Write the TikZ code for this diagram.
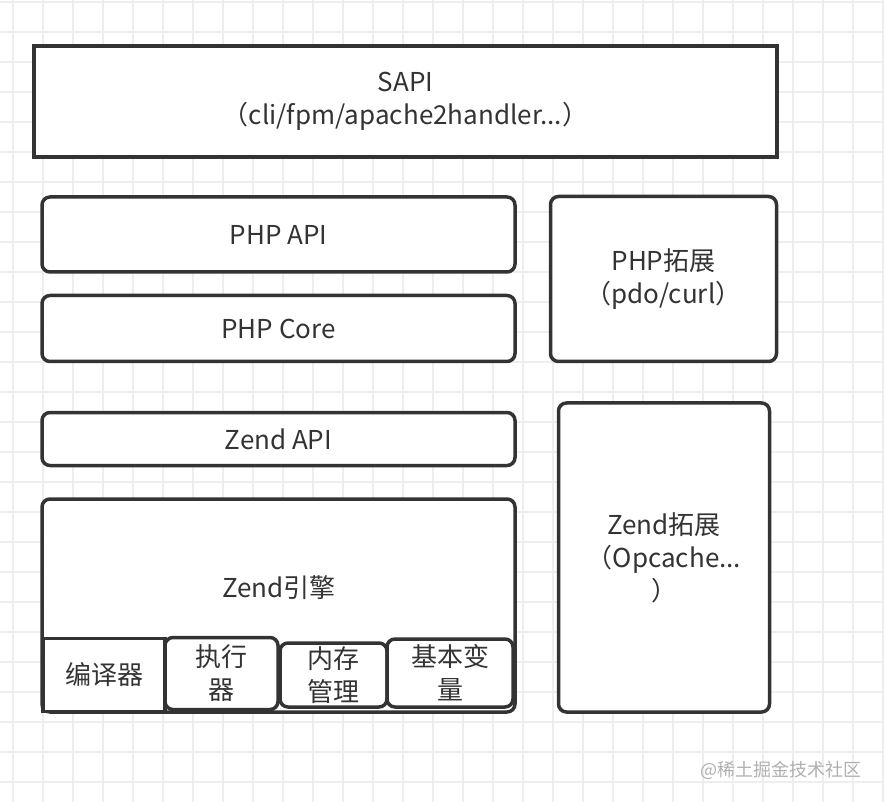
\documentclass[tikz,border=0pt]{standalone}
\usepackage{fontspec}
\setmainfont{Noto Sans CJK SC}
\begin{document}
\begin{tikzpicture}[x=1pt,y=-1pt,
  every node/.style={font=\fontsize{26}{33}\selectfont, text=txt},
  sq/.style={draw=edge, line width=3.5pt, fill=white, rectangle, inner sep=0pt, align=center},
  rd/.style={sq, rounded corners=8pt},
  lbl/.style={inner sep=0pt, align=center},
  gridline/.style={draw=gridc, line width=1.5pt}]
\definecolor{edge}{HTML}{333333}
\definecolor{txt}{HTML}{333333}
\definecolor{gridc}{HTML}{EEEEEE}
\definecolor{wm}{HTML}{B0B0B0}
\useasboundingbox[fill=white] (0,0) rectangle (884,802);
% grid
\foreach \gx in {13,43,...,883} {\draw[gridline] (\gx,0) -- (\gx,802);}
\foreach \gy in {2,32,...,800} {\draw[gridline] (0,\gy) -- (884,\gy);}
% boxes
\node[sq, minimum width=743pt, minimum height=111pt] (sapi) at (405.5,101.5)
  {SAPI\\（cli/fpm/apache2handler...）};
\node[rd, minimum width=473pt, minimum height=75pt] (phpapi) at (278.5,234.5) {PHP API};
\node[rd, minimum width=473pt, minimum height=66pt] (phpcore) at (278.5,328.5) {PHP Core};
\node[rd, minimum width=226pt, minimum height=165pt] (phpext) at (663.5,279) {PHP拓展\\（pdo/curl）};
\node[rd, minimum width=473pt, minimum height=53pt] (zendapi) at (278.5,439) {Zend API};
\node[rd, minimum width=473pt, minimum height=213pt] (zend) at (278.5,605.5) {};
\node[lbl] (zendtxt) at (279,588) {Zend引擎};
\node[rd, minimum width=211pt, minimum height=309pt] (zendext) at (664,557.5) {Zend拓展\\（Opcache...\\）};
% bottom row
\node[sq, minimum width=122pt, minimum height=73pt] (compiler) at (104,675) {编译器};
\node[rd, minimum width=113pt, minimum height=72pt] (exec) at (221.5,673.5) {执行\\器};
\node[rd, minimum width=107pt, minimum height=64pt] (mem) at (333.5,675) {内存\\管理};
\node[rd, minimum width=126pt, minimum height=68pt] (var) at (450,673) {基本变\\量};
% watermark
\node[lbl, text=wm, font=\fontsize{18}{20}\selectfont] (mark) at (781,770) {@稀土掘金技术社区};
\end{tikzpicture}
\end{document}
